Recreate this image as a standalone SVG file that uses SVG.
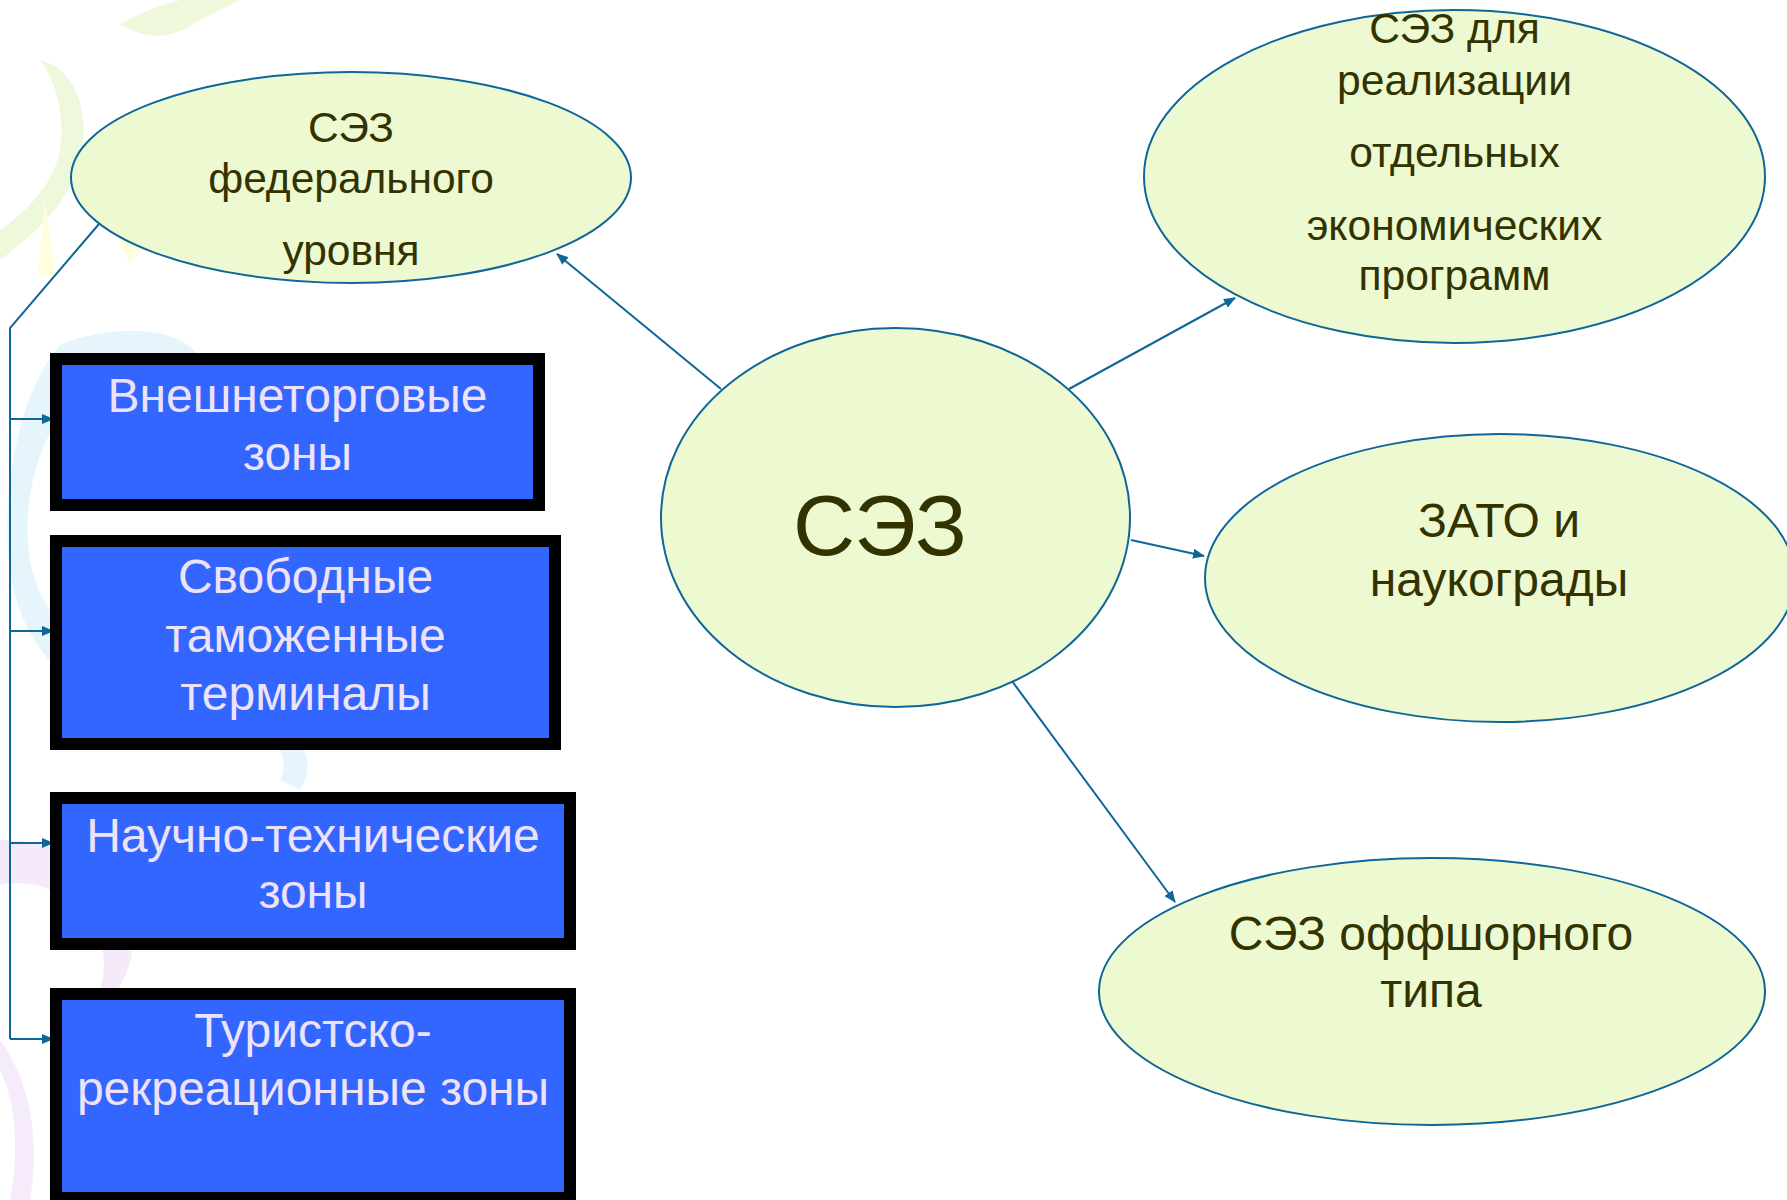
<svg xmlns="http://www.w3.org/2000/svg" width="1787" height="1200" viewBox="0 0 1787 1200">
<defs>
<marker id="arr" viewBox="0 0 12 10" refX="11" refY="5" markerWidth="12" markerHeight="10" markerUnits="userSpaceOnUse" orient="auto">
<path d="M0,0 L12,5 L0,10 z" fill="#0F6699"/>
</marker>
<style>
.ell{fill:#EDF9D1;stroke:#0F6699;stroke-width:2}
.box{fill:#3366FF;stroke:#000;stroke-width:12}
.lt{font-family:"Liberation Sans",Arial,sans-serif;fill:#333300;text-anchor:middle}
.bt{font-family:"Liberation Sans",Arial,sans-serif;fill:#EEE2F8;text-anchor:middle;font-size:48px}
.con{fill:none;stroke:#0F6699;stroke-width:2}
</style>
</defs>
<rect width="1787" height="1200" fill="#FFFFFF"/>
<g id="background" opacity="0.6">
<path d="M120,25 C160,0 210,-10 240,0 L200,20 C170,40 150,40 120,25 z" fill="#E4F4C4"/>
<path d="M40,60 C80,70 90,120 80,160 C70,200 40,230 0,260 L0,230 C30,210 55,180 60,150 C65,110 55,80 40,60 z" fill="#E4F4C4"/>
<path d="M45,200 L55,275 L38,275 z" fill="#FFFFCC"/>
<path d="M110,220 L130,265 L150,240 z" fill="#FFFFCC"/>
<path d="M60,345 C120,320 190,330 200,360 C160,350 100,360 70,400 C40,440 20,500 30,560 C40,620 90,660 150,680 C200,700 260,700 300,690 C260,720 200,730 150,720 C80,705 20,650 10,570 C0,490 20,390 60,345 z" fill="#D6EEFB"/>
<path d="M250,690 C300,730 320,760 300,790 L280,780 C290,760 280,740 250,720 z" fill="#D6EEFB"/>
<path d="M0,840 C60,840 110,870 130,920 C140,960 120,1000 90,1010 C110,980 110,940 80,910 C55,885 25,880 0,885 z" fill="#EEDDF8"/>
<path d="M0,1040 C30,1080 40,1140 30,1200 L10,1200 C20,1150 15,1100 0,1070 z" fill="#EEDDF8"/>
</g>
<g id="connectors">
<path class="con" d="M721,389 L557,254" marker-end="url(#arr)"/>
<path class="con" d="M1069,389 L1235,298" marker-end="url(#arr)"/>
<path class="con" d="M1131,540 L1204,556" marker-end="url(#arr)"/>
<path class="con" d="M1009,677 L1175,902" marker-end="url(#arr)"/>
<path class="con" d="M99,224 L10,328 L10,1039"/>
<path class="con" d="M10,419 L53,419" marker-end="url(#arr)"/>
<path class="con" d="M10,631 L53,631" marker-end="url(#arr)"/>
<path class="con" d="M10,843 L53,843" marker-end="url(#arr)"/>
<path class="con" d="M10,1039 L53,1039" marker-end="url(#arr)"/>
</g>
<g id="node-federal">
<ellipse class="ell" cx="351" cy="177.5" rx="280" ry="105.5"/>
<text class="lt" font-size="42.5" x="351" y="142">СЭЗ</text>
<text class="lt" font-size="42.5" x="351" y="193">федерального</text>
<text class="lt" font-size="42.5" x="351" y="265">уровня</text>
</g>
<g id="node-center">
<ellipse class="ell" cx="895.5" cy="517.5" rx="234.5" ry="189.5"/>
<text class="lt" font-size="86" x="880" y="555">СЭЗ</text>
</g>
<g id="node-programs">
<ellipse class="ell" cx="1454.5" cy="176.5" rx="310.5" ry="166.5"/>
<text class="lt" font-size="42.6" x="1454.5" y="43">СЭЗ для</text>
<text class="lt" font-size="42.6" x="1454.5" y="95">реализации</text>
<text class="lt" font-size="42.6" x="1454.5" y="167">отдельных</text>
<text class="lt" font-size="42.6" x="1454.5" y="240">экономических</text>
<text class="lt" font-size="42.6" x="1454.5" y="290">программ</text>
</g>
<g id="node-zato">
<ellipse class="ell" cx="1500" cy="578" rx="295" ry="144"/>
<text class="lt" font-size="48" x="1499" y="537">ЗАТО и</text>
<text class="lt" font-size="48" x="1499" y="596">наукограды</text>
</g>
<g id="node-offshore">
<ellipse class="ell" cx="1432" cy="991.5" rx="333" ry="133.5"/>
<text class="lt" font-size="48" x="1431" y="950">СЭЗ оффшорного</text>
<text class="lt" font-size="48" x="1431" y="1007">типа</text>
</g>
<g id="node-foreign-trade">
<rect class="box" x="56" y="359" width="483" height="146"/>
<text class="bt" x="297.5" y="412">Внешнеторговые</text>
<text class="bt" x="297.5" y="470">зоны</text>
</g>
<g id="node-customs">
<rect class="box" x="56" y="541" width="499" height="203"/>
<text class="bt" x="305.5" y="593">Свободные</text>
<text class="bt" x="305.5" y="652">таможенные</text>
<text class="bt" x="305.5" y="710">терминалы</text>
</g>
<g id="node-science">
<rect class="box" x="56" y="798" width="514" height="146"/>
<text class="bt" x="313" y="852">Научно-технические</text>
<text class="bt" x="313" y="908">зоны</text>
</g>
<g id="node-tourism">
<rect class="box" x="56" y="994" width="514" height="204"/>
<text class="bt" x="313" y="1047">Туристско-</text>
<text class="bt" x="313" y="1105">рекреационные зоны</text>
</g>
</svg>
